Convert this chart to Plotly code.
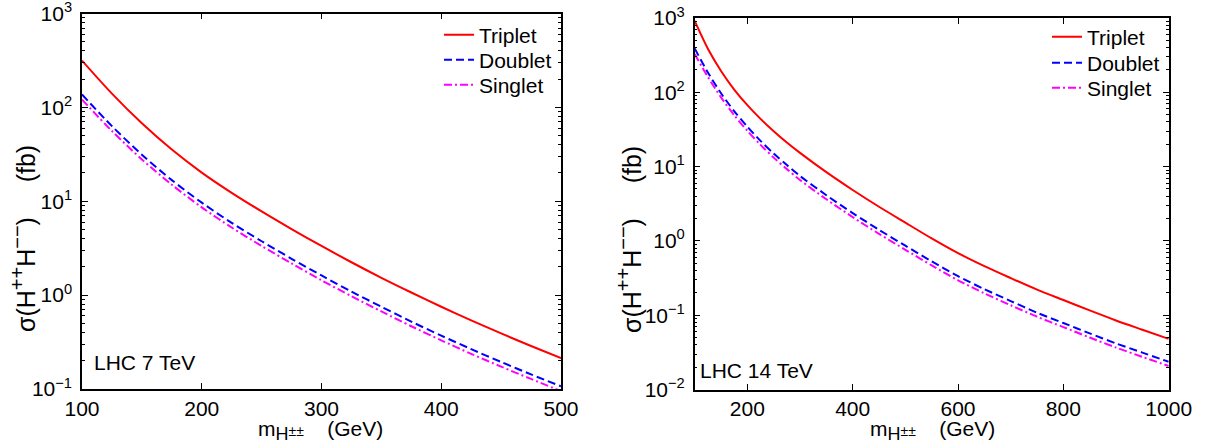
import plotly.graph_objects as go

# ---------------- data ----------------
mass_7 = [100, 125, 150, 175, 200, 225, 250, 275, 300, 325, 350, 375, 400, 425, 450, 475, 500]
triplet_7 = [315, 140, 67.6, 35.5, 20.2, 12.3, 7.80, 5.06, 3.34, 2.24, 1.53, 1.067, 0.752, 0.538, 0.391, 0.287, 0.213]
doublet_7 = [137, 63.1, 31.3, 16.8, 9.66, 5.89, 3.75, 2.44, 1.62, 1.09, 0.752, 0.522, 0.37, 0.266, 0.194, 0.143, 0.107]
singlet_7 = [121, 56.0, 27.9, 15.0, 8.61, 5.25, 3.34, 2.18, 1.44, 0.973, 0.67, 0.466, 0.33, 0.237, 0.173, 0.128, 0.095]

mass_14 = [100, 125, 150, 175, 200, 225, 250, 275, 300, 350, 400, 450, 500, 550, 600, 650, 700, 750, 800, 850, 900, 950, 1000]
triplet_14 = [912, 386, 194, 109, 67.1, 43.9, 30.0, 21.1, 15.3, 8.41, 4.84, 2.88, 1.76, 1.08, 0.684, 0.457, 0.316,
              0.221, 0.160, 0.116, 0.085, 0.0638, 0.048]
doublet_14 = [389, 185, 97.0, 55.8, 34.4, 22.2, 15.0, 10.5, 7.48, 4.12, 2.37, 1.41, 0.861, 0.531, 0.335, 0.224, 0.155,
              0.108, 0.0785, 0.0569, 0.0417, 0.0314, 0.0236]
singlet_14 = [327, 161, 85.5, 49.2, 30.3, 19.6, 13.2, 9.25, 6.59, 3.63, 2.09, 1.245, 0.759, 0.468, 0.295, 0.197, 0.136,
              0.0955, 0.0692, 0.0501, 0.0367, 0.0275, 0.0207]

series_names = ["Triplet", "Doublet", "Singlet"]
xticks_7 = [100, 200, 300, 400, 500]
xticks_14 = [200, 400, 600, 800, 1000]
yticks_7 = [0.1, 1, 10, 100, 1000]
yticktext_7 = ["10<sup>−1</sup>", "10<sup>0</sup>", "10<sup>1</sup>", "10<sup>2</sup>", "10<sup>3</sup>"]
yticks_14 = [0.01, 0.1, 1, 10, 100, 1000]
yticktext_14 = ["10<sup>−2</sup>", "10<sup>−1</sup>", "10<sup>0</sup>", "10<sup>1</sup>", "10<sup>2</sup>", "10<sup>3</sup>"]
panel_labels = ["LHC 7 TeV", "LHC 14 TeV"]
SUP = "<span style='font-size:20px'>"
ytitle = "σ(H<sup>" + SUP + "++</span></sup>H<sup>" + SUP + "−−</span></sup>)     (fb)"
xtitle = "m<sub><span style='font-size:18px'>H</span></sub><span style='font-size:14px'>±±</span>    (GeV)"

# ---------------- styling ----------------
W, H = 1206, 444
FONT = "Liberation Sans, Arial, Helvetica, sans-serif"
FS = 21
colors = ["#ff0000", "#0000ff", "#ff00ff"]
dashes = ["solid", "8px,4px", "8px,3px,2px,3px"]

def px_x(p):
    return p / W

def px_y(p):
    return 1 - p / H

def minor_vals(lo, hi):
    return [m * 10 ** k for k in range(lo, hi) for m in range(2, 10)]

fig = go.Figure()

data_7 = [triplet_7, doublet_7, singlet_7]
data_14 = [triplet_14, doublet_14, singlet_14]
for i, name in enumerate(series_names):
    fig.add_trace(go.Scatter(x=mass_7, y=data_7[i], name=name, mode="lines",
                             line=dict(color=colors[i], width=2, dash=dashes[i], shape="spline", smoothing=0.8),
                             xaxis="x", yaxis="y", legend="legend%d" % (i + 2)))
for i, name in enumerate(series_names):
    fig.add_trace(go.Scatter(x=mass_14, y=data_14[i], name=name, mode="lines",
                             line=dict(color=colors[i], width=2, dash=dashes[i], shape="spline", smoothing=0.8),
                             xaxis="x2", yaxis="y2", legend="legend%d" % (i + 5)))

axis_common = dict(showgrid=False, zeroline=False, showline=True, linecolor="black", linewidth=1.5,
                   mirror="ticks", ticks="inside", ticklen=6, tickcolor="black", tickwidth=1,
                   automargin=False, ticklabeloverflow="allow",
                   tickfont=dict(family=FONT, size=FS, color="black"))

def yminor(lo, hi):
    return dict(ticks="inside", ticklen=3, tickcolor="black", tickwidth=1, showgrid=False,
                tickmode="array", tickvals=minor_vals(lo, hi))

fig.update_layout(
    width=W, height=H, margin=dict(l=0, r=0, t=0, b=0, autoexpand=False),
    paper_bgcolor="white", plot_bgcolor="white",
    font=dict(family=FONT, size=FS, color="black"),
    xaxis=dict(domain=[px_x(82), px_x(561)], range=[100, 500], tickvals=xticks_7,
               anchor="y", ticklabelstandoff=0, **axis_common),
    yaxis=dict(domain=[px_y(389), px_y(13.5)], type="log", range=[-1, 3], tickvals=yticks_7,
               ticktext=yticktext_7, anchor="x", minor=yminor(-1, 3), ticklabelstandoff=4, **axis_common),
    xaxis2=dict(domain=[px_x(694.7), px_x(1168.7)], range=[100, 1000], tickvals=xticks_14,
                anchor="y2", ticklabelstandoff=0, **axis_common),
    yaxis2=dict(domain=[px_y(389.5), px_y(18)], type="log", range=[-2, 3], tickvals=yticks_14,
                ticktext=yticktext_14, anchor="x2", minor=yminor(-2, 3), ticklabelstandoff=4, **axis_common),
)

legend_pos = [(439, 35), (439, 60), (439, 85), (1047, 37), (1047, 63), (1047, 88)]
leg = {}
for j, (lx, ly) in enumerate(legend_pos):
    key = "legend%d" % (j + 2)
    leg[key] = dict(x=px_x(lx), y=px_y(ly), xanchor="left", yanchor="middle", bgcolor="rgba(0,0,0,0)",
                    font=dict(family=FONT, size=FS, color="black"), itemwidth=30, borderwidth=0)
fig.update_layout(**leg)

ann = []
ann.append(dict(text=panel_labels[0], x=px_x(92), y=px_y(362), xref="paper", yref="paper",
                xanchor="left", yanchor="middle", showarrow=False, font=dict(size=FS)))
ann.append(dict(text=panel_labels[1], x=px_x(698), y=px_y(370), xref="paper", yref="paper",
                xanchor="left", yanchor="middle", showarrow=False, font=dict(size=FS)))
ann.append(dict(text=ytitle, x=px_x(23), y=px_y(239), xref="paper", yref="paper", textangle=-90,
                xanchor="center", yanchor="middle", showarrow=False, font=dict(size=25)))
ann.append(dict(text=ytitle, x=px_x(629), y=px_y(240), xref="paper", yref="paper", textangle=-90,
                xanchor="center", yanchor="middle", showarrow=False, font=dict(size=25)))
ann.append(dict(text=xtitle, x=px_x(320), y=px_y(430), xref="paper", yref="paper",
                xanchor="center", yanchor="middle", showarrow=False, font=dict(size=FS)))
ann.append(dict(text=xtitle, x=px_x(932), y=px_y(430), xref="paper", yref="paper",
                xanchor="center", yanchor="middle", showarrow=False, font=dict(size=FS)))
fig.update_layout(annotations=ann)

fig.write_html("out.html", config={"displayModeBar": False},
               post_script="document.body.style.margin='0px';document.body.style.overflow='hidden';")
